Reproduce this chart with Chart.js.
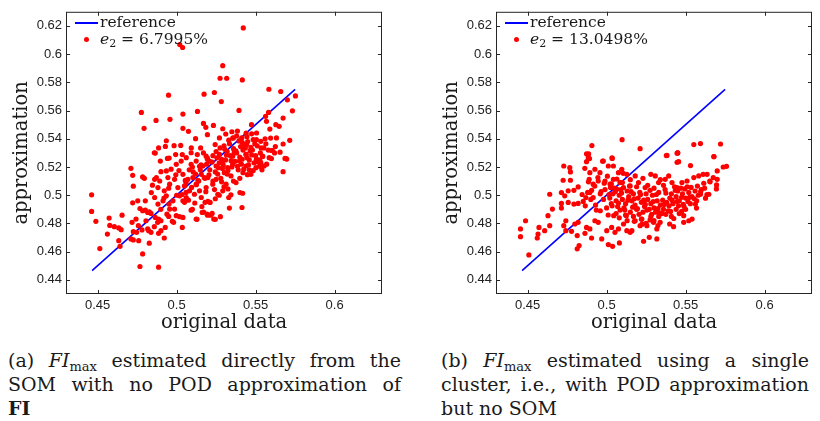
<!DOCTYPE html>
<html>
<head>
<meta charset="utf-8">
<script src="https://cdn.jsdelivr.net/npm/chart.js@4.4.0/dist/chart.umd.min.js"></script>
<style>
  body { margin: 0; background: #fff; width: 820px; height: 421px; overflow: hidden; position: relative;
         font-family: "DejaVu Serif", serif; color: #1a1a1a; }
  .panel { position: absolute; top: 0; width: 390px; height: 340px; }
  #panelA { left: 0; }
  #panelB { left: 430px; }
  .lg-line { position: absolute; left: 75px; top: 22px; width: 23px; height: 2px; background: #0000ff; }
  .lg-dot { position: absolute; left: 84px; top: 37px; width: 5px; height: 5px; border-radius: 50%; background: #ff0000; }
  .lg-text { position: absolute; left: 100px; font-size: 15.5px; line-height: 20px; white-space: nowrap; }
  .lg-text sub { font-size: 11px; vertical-align: -3px; line-height: 0; }
  .caption { position: absolute; top: 348px; font-size: 19px; line-height: 24px; }
  .caption div { text-align: justify; text-align-last: justify; white-space: nowrap; }
  .caption div.last { text-align-last: left; }
  .caption sub { font-size: 13px; vertical-align: -4px; line-height: 0; }
  #capA { left: 8px; width: 393px; }
  #capB { left: 441px; width: 368px; }
</style>
</head>
<body>
<div class="panel" id="panelA">
  <canvas id="chartA" width="390" height="340"></canvas>
  <div class="lg-line"></div>
  <div class="lg-text" style="top:12px">reference</div>
  <div class="lg-dot"></div>
  <div class="lg-text" style="top:29px"><i>e</i><sub>2</sub> = 6.7995%</div>
</div>
<div class="panel" id="panelB">
  <canvas id="chartB" width="390" height="340"></canvas>
  <div class="lg-line"></div>
  <div class="lg-text" style="top:12px">reference</div>
  <div class="lg-dot"></div>
  <div class="lg-text" style="top:29px"><i>e</i><sub>2</sub> = 13.0498%</div>
</div>
<div class="caption" id="capA">
  <div>(a) <i>FI</i><sub>max</sub> estimated directly from the</div>
  <div>SOM with no POD approximation of</div>
  <div class="last"><b>FI</b></div>
</div>
<div class="caption" id="capB">
  <div>(b) <i>FI</i><sub>max</sub> estimated using a single</div>
  <div>cluster, i.e., with POD approximation</div>
  <div class="last">but no SOM</div>
</div>

<script>
const xTicks = [0.45, 0.5, 0.55, 0.6];
const yTicks = [0.44, 0.46, 0.48, 0.5, 0.52, 0.54, 0.56, 0.58, 0.6, 0.62];
const refX = [0.4465, 0.575];
const refY = [0.4465, 0.575];

// (a) SOM, no POD
const aX = [
  0.5422,0.5020,0.5038,0.5292,0.5275,0.5317,0.5416,0.5174,0.5239,0.5584,0.5659,0.4949,0.5283,0.5701,0.5752,
  0.4777,0.5132,0.5395,0.5582,0.5733,0.4870,0.4958,0.5040,0.4794,0.5040,0.5170,0.5233,0.5563,0.5674,0.5628,
  0.5649,0.5474,0.5292,0.5075,0.5185,0.5569,0.5506,0.5590,0.5632,0.5716,0.5674,0.4935,0.4886,0.4865,0.4929,
  0.4984,0.5026,0.5093,0.5120,0.5152,0.5195,0.5244,0.5271,0.5311,0.5359,0.5412,0.5443,0.5485,0.5533,0.5552,
  0.5601,0.5693,0.5036,0.5131,0.5195,0.4953,0.4994,
  0.4462,0.4462,0.4489,0.4514,0.4573,0.4577,0.4562,0.4606,0.4634,0.4649,0.4655,0.4634,0.4642,0.4711,0.4722,
  0.4726,0.4722,0.4754,0.4718,0.4743,0.4726,0.4747,0.4711,0.4726,0.4760,0.4758,0.4768,0.4785,0.4802,0.4817,
  0.4827,0.4838,0.4785,0.4796,0.4802,0.4806,0.4781,0.4823,0.4817,0.4838,0.4827,0.4785,0.4768,0.4886,0.4865,
  0.4886,0.4901,0.4859,0.4880,0.4901,0.4928,0.4922,0.4886,0.4847,0.4861,0.4872,0.4893,0.4882,0.4840,0.4861,
  0.4882,0.4914,0.4935,0.4952,0.4956,0.4939,0.4977,0.4987,0.4998,0.4981,0.4973,0.5036,0.5019,0.5040,0.5092,
  0.5124,0.5162,0.5193,0.5225,0.5235,0.5277,0.5334,0.5414,0.5330,0.5344,0.5401,0.5418,0.5376,0.5212,0.5198,
  0.5156,0.5113,0.5061,0.5040,0.5019,0.5008,0.5050,0.5082,0.5124,0.5145,0.5187,0.5229,0.5261,0.5292,0.5313,
  0.5250,0.5198,0.5156,0.5103,0.5071,0.5040,0.4987,0.4956,0.4922,0.4901,0.4935,0.4942,0.4897,0.4859,0.4998,
  0.5029,0.5061,0.5092,0.5124,0.5166,0.5208,0.5250,0.5292,0.5323,0.5355,0.5397,0.5439,0.5470,0.5502,0.5533,
  0.5554,0.5586,0.5439,0.5544,0.5686,0.5674,0.5355,0.5271,0.5187,0.5092,0.5302,0.5344,
  0.5606,0.5697,0.5171,0.5196,0.5215,0.5245,0.5129,0.5448,0.5528,
  0.5300,0.5320,0.5340,0.5360,0.5380,0.5400,0.5420,0.5440,0.5460,0.5480,0.5500,0.5370,0.5350,0.5390,0.5410,
  0.5430,0.5450,0.5470,0.5490,0.5510,0.5530,0.5520,0.5330,0.5310,0.5290,0.5270,0.5250,0.5230,0.5210,0.5190,
  0.5170,0.5150,0.5260,0.5280,0.5300,0.5320,0.5400,0.5420,0.5360,0.5380,0.5350,0.5440,0.5560,0.5580,0.5600,
  0.5620,0.5540,0.5570,0.5460,0.5100,0.5080,0.5060,0.5000,0.5120,0.5140,0.5180,0.5230,0.5240,0.5270,0.5180,
  0.5060,0.4950,0.4920,0.4900,0.4950,0.5050,0.5100,0.5160,
  0.5255,0.5275,0.5295,0.5315,0.5335,0.5355,0.5375,0.5395,0.5415,0.5435,0.5455,0.5475,0.5495,0.5515,0.5535,
  0.5265,0.5285,0.5305,0.5325,0.5345,0.5365,0.5385,0.5405,0.5425,0.5445,0.5465,0.5485,0.5505,0.5525,0.5545,
  0.5205,0.5225,0.5245,0.5155,0.5175,0.5195,0.5105,0.5125,0.5145,0.5355,0.5385,0.5415,0.5445,0.5475,0.5505,
  0.5565,0.5595,0.5625,0.5655,
  0.5035,0.5055,0.5075,0.5095,0.5115,0.5135,0.4995,0.5015,0.4965,0.4945,0.5185,0.5245,0.5285,0.5325
];
const aY = [
  0.6186,0.6068,0.6047,0.5918,0.5829,0.5829,0.5817,0.5716,0.5728,0.5751,0.5735,0.5709,0.5664,0.5676,0.5704,
  0.5587,0.5594,0.5601,0.5587,0.5598,0.5530,0.5538,0.5575,0.5474,0.5474,0.5509,0.5495,0.5559,0.5547,0.5500,
  0.5488,0.5500,0.5471,0.5453,0.5481,0.5524,0.5441,0.5469,0.5406,0.5389,0.5363,0.5386,0.5335,0.5299,0.5346,
  0.5351,0.5353,0.5335,0.5401,0.5335,0.5429,0.5359,0.5406,0.5434,0.5406,0.5406,0.5359,0.5394,0.5382,0.5335,
  0.5317,0.5260,0.5288,0.5288,0.5264,0.5264,0.5288,
  0.5003,0.4885,0.4815,0.4622,0.4838,0.4786,0.4725,0.4777,0.4768,0.4756,0.4859,0.4678,0.4638,0.5191,0.5141,
  0.5064,0.4946,0.4960,0.4808,0.4831,0.4742,0.4737,0.4690,0.4683,0.4678,0.4784,0.4906,0.4890,0.4894,0.4878,
  0.4883,0.4871,0.5130,0.5120,0.4960,0.4819,0.4754,0.4749,0.4761,0.4737,0.4660,0.4584,0.4495,0.4490,0.4843,
  0.4831,0.4819,0.4777,0.4808,0.4749,0.4772,0.4697,0.4730,0.5071,0.5113,0.5125,0.5101,0.5054,0.5019,0.4984,
  0.4937,0.4960,0.4996,0.4937,0.4902,0.4866,0.4960,0.4902,0.4855,0.4808,0.4815,0.4772,0.4848,0.4843,0.4894,
  0.4831,0.4878,0.4866,0.4871,0.4831,0.4848,0.4909,0.4913,0.4984,0.5003,0.5019,0.5014,0.5090,0.4949,0.4956,
  0.4984,0.5007,0.4984,0.4960,0.4996,0.5054,0.5066,0.5031,0.5078,0.5031,0.5054,0.5078,0.5007,0.5031,0.5078,
  0.5113,0.5125,0.5148,0.5125,0.5113,0.5148,0.5113,0.5078,0.5031,0.5167,0.5172,0.5261,0.5242,0.5301,0.5219,
  0.5242,0.5266,0.5219,0.5242,0.5207,0.5242,0.5207,0.5242,0.5195,0.5219,0.5242,0.5207,0.5148,0.5195,0.5230,
  0.5207,0.5266,0.5289,0.5277,0.5261,0.5167,0.5277,0.5289,0.5277,0.5301,0.5160,0.5137,
  0.5317,0.5256,0.4881,0.4859,0.4859,0.4829,0.4829,0.5146,0.5245,
  0.5350,0.5310,0.5280,0.5330,0.5300,0.5270,0.5320,0.5290,0.5250,0.5320,0.5280,0.5240,0.5200,0.5180,0.5220,
  0.5360,0.5380,0.5340,0.5230,0.5350,0.5300,0.5250,0.5390,0.5250,0.5190,0.5230,0.5310,0.5280,0.5180,0.5220,
  0.5300,0.5180,0.5150,0.5120,0.5060,0.5150,0.5120,0.5160,0.5100,0.5420,0.5450,0.5440,0.5400,0.5320,0.5260,
  0.5300,0.5180,0.5220,0.5180,0.5200,0.5180,0.5090,0.5000,0.5150,0.5100,0.5120,0.5100,0.5040,0.5000,0.4950,
  0.5020,0.5050,0.4980,0.4900,0.4850,0.4950,0.4900,0.4920,
  0.5265,0.5335,0.5215,0.5285,0.5365,0.5235,0.5315,0.5385,0.5255,0.5335,0.5215,0.5285,0.5365,0.5235,0.5335,
  0.5195,0.5255,0.5325,0.5175,0.5245,0.5305,0.5205,0.5345,0.5185,0.5265,0.5315,0.5175,0.5255,0.5205,0.5275,
  0.5145,0.5235,0.5165,0.5215,0.5125,0.5255,0.5165,0.5075,0.5205,0.5405,0.5455,0.5375,0.5415,0.5435,0.5395,
  0.5365,0.5405,0.5345,0.5305,
  0.5005,0.5105,0.4965,0.5055,0.4945,0.5105,0.5145,0.5175,0.5185,0.5125,0.5025,0.4975,0.5095,0.5045
];

// (b) single cluster, POD, no SOM
const bX = [
  0.5098,0.4907,0.4886,0.4892,0.5034,0.5212,0.5378,0.5450,0.5552,0.5594,0.5679,0.5721,0.4975,
  0.4873,0.4884,0.5036,0.5450,0.5382,0.5456,0.5679,0.4729,0.4767,0.4771,0.4725,0.4771,0.4640,0.4714,0.4735,
  0.4757,0.4793,0.4820,0.4757,0.4793,0.4714,0.4820,0.4852,0.4869,0.4894,0.4915,0.4873,0.4862,0.4894,0.4926,
  0.4958,0.4979,0.5011,0.5043,0.5075,0.5096,0.5128,0.5181,0.4890,0.4915,0.4947,0.4990,0.5022,0.5043,0.5085,
  0.5064,0.5107,0.5149,0.5202,0.5244,0.5280,0.5308,0.5329,0.5371,0.5393,0.5414,0.5446,0.5477,0.5509,0.5552,
  0.5583,0.5611,0.5636,0.5653,0.5700,0.5696,0.5738,0.5759,0.5700,0.5594,0.5626,0.5647,0.5562,0.5569,0.5541,
  0.5520,0.5488,0.5488,0.5399,0.5424,0.5318,0.5234,0.5270,0.5318,0.5339,0.5297,0.5255,0.5212,0.5223,0.5181,
  0.5160,0.5149,0.5128,0.5107,0.5075,0.5032,0.5053,0.5001,0.4969,0.5011,0.5038,0.5081,0.4947,0.4926,0.4894,
  0.4905,0.4863,0.4873,0.4820,0.4814,0.4826,0.4814,0.4778,0.4742,0.4729,0.4742,0.4799,0.4629,0.4640,0.4608,
  0.4566,0.4572,0.4561,0.4487,0.4455,0.4455,0.4508,0.4657,0.4714,
  0.5446,0.5446,0.5531,
  0.5020,0.5040,0.5060,0.5080,0.5100,0.5120,0.5140,0.5160,0.5180,0.5200,0.5220,0.5240,0.5260,0.5280,0.5300,
  0.5320,0.5340,0.5360,0.5380,0.5400,0.5420,0.5440,0.5460,0.5480,0.5500,0.5520,0.5540,0.5560,0.5450,0.5410,
  0.5390,0.5350,0.5310,0.5270,0.5230,0.5190,0.5150,0.5110,0.5070,0.5030,0.5000,0.4980,0.4960,0.5050,0.5090,
  0.5130,0.5170,0.5210,0.5250,0.5290,0.5330,0.5370,0.5430,0.5470,0.5510,0.5530,0.5490,0.5440,0.5330,0.5280,
  0.5220,0.5170,0.5120,0.5060,0.5010,0.4960,0.4930,0.4900,0.4880,0.5300,0.5360,0.5260,0.5190,0.5100,0.5580,
  0.5600,0.5620,0.5570,0.5500,0.5460,0.5410,0.5250,0.5300,0.5130,0.5080,0.4990,0.5030,0.5150,0.5230,0.5340,
  0.5015,0.5035,0.5055,0.5075,0.5095,0.5115,0.5135,0.5155,0.5175,0.5195,0.5215,0.5235,0.5255,0.5275,0.5295,
  0.5315,0.5335,0.5355,0.5375,0.5395,
  0.5415,0.5435,0.5455,0.5475,0.5495,0.5515,0.5535,0.5555,0.5575,0.5595,0.5615,0.5635,0.5655,0.5675,0.5695,
  0.5045,0.5085,0.5125,0.5165,0.5205,0.5245,0.5285,0.5325,0.5365,0.5405,0.5445,0.5485,0.5525,0.5175,0.5225,
  0.5275,0.5325,0.5375,0.5425,0.5475,
  0.4925,0.4945,0.4965,0.4985,0.5005,0.5025,0.4905,0.4935,0.5065,0.5105,0.5145,0.4845,0.4865,0.4885
];
const bY = [
  0.5394,0.5352,0.5293,0.5260,0.5265,0.5330,0.5281,0.5300,0.5359,0.5366,0.5274,0.5363,0.5241,
  0.5294,0.5266,0.5261,0.5301,0.5282,0.5238,0.5273,0.5207,0.5195,0.5165,0.5106,0.5106,0.5007,0.5019,0.4996,
  0.5031,0.5035,0.5059,0.4949,0.4937,0.4942,0.4942,0.4956,0.4984,0.5019,0.4984,0.5238,0.5191,0.5160,0.5184,
  0.5160,0.5242,0.5207,0.5207,0.5160,0.5184,0.5148,0.5137,0.5113,0.5078,0.5101,0.5101,0.5078,0.5113,0.5090,
  0.5043,0.5054,0.5066,0.5090,0.5054,0.5148,0.5137,0.5090,0.5113,0.5137,0.5090,0.5054,0.5090,0.5101,0.5125,
  0.5137,0.5148,0.5148,0.5101,0.5113,0.5073,0.5200,0.5205,0.5172,0.5007,0.4979,0.5007,0.4937,0.4909,0.4831,
  0.4819,0.4808,0.4855,0.4796,0.4777,0.4690,0.4674,0.4702,0.4761,0.4808,0.4808,0.4784,0.4784,0.4831,0.4819,
  0.4749,0.4737,0.4749,0.4796,0.4761,0.4772,0.4737,0.4749,0.4690,0.4650,0.4638,0.4662,0.4808,0.4819,0.4761,
  0.4697,0.4730,0.4772,0.4808,0.4714,0.4643,0.4620,0.4744,0.4749,0.4784,0.4819,0.4796,0.4855,0.4784,0.4749,
  0.4725,0.4772,0.4697,0.4819,0.4761,0.4706,0.4577,0.4902,0.4909,
  0.5298,0.5233,0.5210,
  0.4980,0.5010,0.4960,0.5000,0.4970,0.4940,0.4990,0.4960,0.4930,0.4980,0.4950,0.4920,0.4970,0.4940,0.4910,
  0.4960,0.4930,0.4900,0.4950,0.4980,0.4940,0.4990,0.4960,0.5010,0.4980,0.5020,0.4990,0.5030,0.5030,0.5010,
  0.4890,0.4870,0.4880,0.4900,0.4880,0.4900,0.4880,0.4910,0.4920,0.4940,0.4910,0.4970,0.5010,0.5050,0.5040,
  0.5030,0.5010,0.5020,0.5010,0.5000,0.5020,0.5040,0.5060,0.5050,0.5060,0.4940,0.4920,0.4900,0.4850,0.4850,
  0.4830,0.4850,0.4860,0.4870,0.4860,0.4890,0.4930,0.4970,0.5020,0.5050,0.5070,0.5070,0.5060,0.5090,0.5000,
  0.5040,0.5050,0.4960,0.4900,0.4870,0.4850,0.4800,0.4820,0.4820,0.4840,0.5040,0.5080,0.5110,0.5120,0.5110,
  0.5005,0.4925,0.5025,0.4945,0.5015,0.4895,0.4965,0.5025,0.4975,0.4905,0.5005,0.4965,0.4895,0.5035,0.4955,
  0.5005,0.4875,0.4965,0.5015,0.4925,
  0.4965,0.5035,0.4925,0.4985,0.5045,0.4955,0.5055,0.4975,0.5065,0.5025,0.5085,0.5005,0.5095,0.5125,0.5045,
  0.4855,0.4895,0.4855,0.4915,0.4865,0.4935,0.4865,0.4905,0.4935,0.4885,0.4955,0.4935,0.4985,0.4815,0.4795,
  0.4825,0.4785,0.4865,0.4835,0.4885,
  0.5065,0.5125,0.5025,0.5085,0.5135,0.5055,0.5035,0.4895,0.5115,0.5155,0.5065,0.5005,0.4925,0.5095
];

const toPts = (xs, ys) => xs.map((x, i) => ({ x: x, y: ys[i] }));
const tickFmt = v => String(+Number(v).toFixed(2));

// frame with inward ticks on all four sides (matlab style)
const framePlugin = {
  id: 'frame',
  afterDatasetsDraw(chart) {
    const { ctx, chartArea: a, scales: { x, y } } = chart;
    ctx.save();
    ctx.strokeStyle = '#262626';
    ctx.lineWidth = 1;
    ctx.strokeRect(a.left + 0.5, a.top + 0.5, a.right - a.left - 1, a.bottom - a.top - 1);
    ctx.beginPath();
    xTicks.forEach(v => {
      const p = Math.round(x.getPixelForValue(v)) + 0.5;
      ctx.moveTo(p, a.bottom); ctx.lineTo(p, a.bottom - 4);
      ctx.moveTo(p, a.top); ctx.lineTo(p, a.top + 4);
    });
    yTicks.forEach(v => {
      const p = Math.round(y.getPixelForValue(v)) + 0.5;
      ctx.moveTo(a.left, p); ctx.lineTo(a.left + 4, p);
      ctx.moveTo(a.right, p); ctx.lineTo(a.right - 4, p);
    });
    ctx.stroke();
    ctx.restore();
  }
};

function makeChart(id, xs, ys, yTitle) {
  return new Chart(document.getElementById(id), {
    type: 'scatter',
    data: {
      datasets: [
        { data: toPts(xs, ys), backgroundColor: '#ff0000', borderWidth: 0, pointRadius: 2.6 },
        { data: toPts(refX, refY), showLine: true, borderColor: '#0000ff', borderWidth: 1.6,
          pointRadius: 0, fill: false }
      ]
    },
    options: {
      responsive: false,
      animation: false,
      layout: { padding: { top: 9, right: 8, left: 0, bottom: 0 } },
      plugins: { legend: { display: false }, tooltip: { enabled: false } },
      scales: {
        x: {
          type: 'linear', min: 0.43, max: 0.63,
          grid: { display: false, drawTicks: false },
          border: { display: false },
          afterBuildTicks: s => { s.ticks = xTicks.map(v => ({ value: v })); },
          afterFit: s => { s.height = 46; },
          ticks: { padding: 4, color: '#222', font: { family: 'Liberation Sans', size: 13 }, callback: tickFmt },
          title: { display: true, text: 'original data', color: '#1a1a1a',
                   font: { family: 'DejaVu Serif', size: 19.5 }, padding: { top: 0, bottom: 5 } }
        },
        y: {
          type: 'linear', min: 0.43, max: 0.63,
          grid: { display: false, drawTicks: false },
          border: { display: false },
          afterBuildTicks: s => { s.ticks = yTicks.map(v => ({ value: v })); },
          afterFit: s => { s.width = 66; },
          ticks: { padding: 4, color: '#222', font: { family: 'Liberation Sans', size: 13 }, callback: tickFmt },
          title: { display: true, text: yTitle, color: '#1a1a1a',
                   font: { family: 'DejaVu Serif', size: 19.5 }, padding: { top: 10, bottom: 0 } }
        }
      }
    },
    plugins: [framePlugin]
  });
}

makeChart('chartA', aX, aY, 'approximation');
makeChart('chartB', bX, bY, 'approximation');
</script>
</body>
</html>
